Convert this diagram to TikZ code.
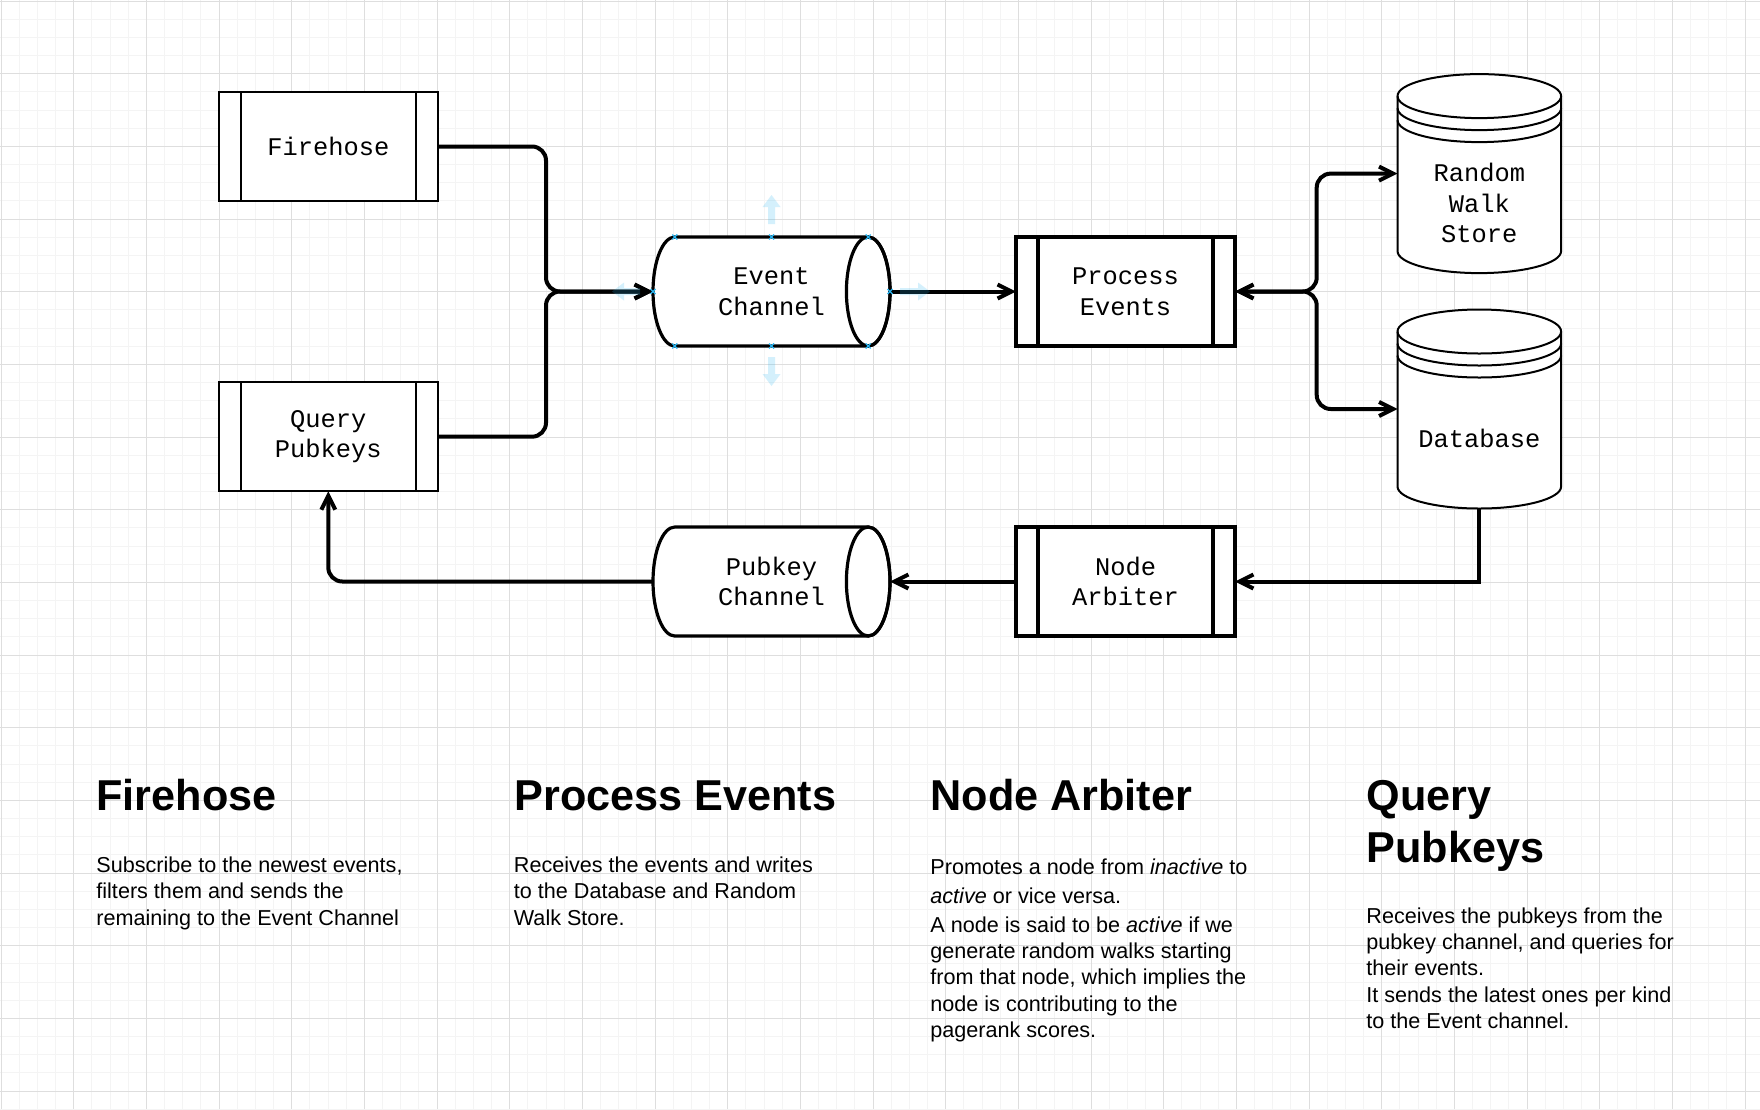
\documentclass[tikz,border=0pt]{standalone}
\usepackage{fontspec}
\setmainfont{Liberation Sans}
\setmonofont{Liberation Mono}
\usetikzlibrary{arrows.meta}

\definecolor{gridmaj}{RGB}{222,222,222}
\definecolor{gridmin}{RGB}{244,244,244}
\definecolor{hover}{RGB}{41,182,242}

\newcommand\drawchannel[3]{%
  \node[chanbox] (#1) at (#2) {};
  \filldraw[fill=white, line width=1.6pt]
    ([xshift=-10.9pt]#1.north east) -- ([xshift=10.9pt]#1.north west)
    arc[start angle=90, end angle=270, x radius=10.9pt, y radius=27.25pt]
    -- ([xshift=-10.9pt]#1.south east)
    arc[start angle=-90, end angle=90, x radius=10.9pt, y radius=27.25pt];
  \draw[line width=1.6pt] ([xshift=-10.9pt]#1.east) ellipse[x radius=10.9pt, y radius=27.25pt];
  \node[monotext] (#1-txt) at (#1) {#3};
}
\newcommand\drawstore[3]{%
  \node[storebox] (#1) at (#2) {};
  \filldraw[fill=white, line width=1pt]
    ([yshift=-11pt]#1.north west) -- ([yshift=11pt]#1.south west)
    arc[start angle=180, end angle=360, x radius=40.9pt, y radius=11pt]
    -- ([yshift=-11pt]#1.north east)
    arc[start angle=0, end angle=180, x radius=40.9pt, y radius=11pt];
  \foreach \dy in {11,17,23}
    \draw[line width=1pt] ([yshift=-\dy pt]#1.north west)
      arc[start angle=180, end angle=360, x radius=40.9pt, y radius=11pt];
  \node[monotext] (#1-txt) at ([yshift=-14.8pt]#1.center) {#3};
}

\begin{document}
\begin{tikzpicture}[x=0.5pt, y=-0.5pt,
  >={Straight Barb[length=7pt, width=7pt]},
  monotext/.style = {align=center, inner sep=0pt,
    font=\ttfamily\fontsize{12.7}{15.3}\selectfont},
  procbox/.style = {rectangle, draw, fill=white, line width=#1,
    minimum width=109.5pt, minimum height=54.5pt, outer sep=0pt, monotext,
    path picture={\draw[line width=#1]
      ([xshift=11pt]path picture bounding box.north west) -- ([xshift=11pt]path picture bounding box.south west)
      ([xshift=-11pt]path picture bounding box.north east) -- ([xshift=-11pt]path picture bounding box.south east);}},
  chanbox/.style = {rectangle, minimum width=118.5pt, minimum height=54.5pt,
    inner sep=0pt, outer sep=0pt},
  storebox/.style = {rectangle, minimum width=81.8pt, minimum height=99.5pt,
    inner sep=0pt, outer sep=0pt},
  conn/.style = {line width=2pt, ->},
  heading/.style = {anchor=base west, inner sep=0pt, align=left,
    font=\bfseries\fontsize{21.6}{25.9}\selectfont},
  body/.style = {anchor=base west, inner sep=0pt, align=left,
    font=\fontsize{10.8}{13.1}\selectfont}]

\useasboundingbox (0,0) rectangle (1760,1109);
\fill[white] (0,0) rectangle (1760,1109);
\foreach \i in {0,...,96}
  \draw[gridmin, line width=0.5pt] ({1+\i*18.1667},0) -- ({1+\i*18.1667},1109);
\foreach \i in {0,...,61}
  \draw[gridmin, line width=0.5pt] (0,{1+\i*18.1667}) -- (1760,{1+\i*18.1667});
\foreach \i in {0,...,24}
  \draw[gridmaj, line width=0.5pt] ({1+\i*72.667},0) -- ({1+\i*72.667},1109);
\foreach \i in {0,...,15}
  \draw[gridmaj, line width=0.5pt] (0,{1+\i*72.667}) -- (1760,{1+\i*72.667});

\node[procbox=1pt] (fire) at (328.3,146.5) {Firehose};
\node[procbox=1pt] (query) at (328.3,436.7) {Query\\Pubkeys};
\drawchannel{evch}{771.5,291.5}{Event\\Channel}
\node[procbox=1.6pt] (proc) at (1125.5,291.5) {Process\\Events};
\drawstore{rws}{1479.3,173.6}{Random\\Walk\\Store}
\drawstore{db}{1479.3,409}{Database}
\node[procbox=1.6pt] (arb) at (1125.5,581.5) {Node\\Arbiter};
\drawchannel{pkch}{771.5,581.5}{Pubkey\\Channel}

\coordinate (merge) at (546,291.5);
\coordinate (split) at (1316.7,291.5);

\draw[conn, rounded corners=7pt] (fire.east) -| (merge) -- (evch.west);
\draw[conn, rounded corners=7pt] (query.east) -| (merge) -- (evch.west);
\draw[conn] (evch.east) -- (proc.west);
\draw[conn, <->, rounded corners=7pt] (proc.east) -- (split) |- (rws.west);
\draw[conn, <->, rounded corners=7pt] (proc.east) -- (split) |- (db.west);
\draw[conn] (db.south) |- (arb.east);
\draw[conn] (arb.west) -- (pkch.east);
\draw[conn, rounded corners=7pt] (pkch.west) -| (query.south);

\fill[hover, fill opacity=0.2] (771.5,195) -- (780.5,207) -- (775,207) -- (775,224)
  -- (768,224) -- (768,207) -- (762.5,207) -- cycle;
\fill[hover, fill opacity=0.2] (771.5,386) -- (780.5,374) -- (775,374) -- (775,357)
  -- (768,357) -- (768,374) -- (762.5,374) -- cycle;
\fill[hover, fill opacity=0.2] (612,291.5) -- (624,282.5) -- (624,288) -- (640,288)
  -- (640,295) -- (624,295) -- (624,300.5) -- cycle;
\fill[hover, fill opacity=0.2] (930,291.5) -- (918,282.5) -- (918,288) -- (900,288)
  -- (900,295) -- (918,295) -- (918,300.5) -- cycle;
\foreach \p in {evch.north, evch.south, evch.west, evch.east}
  \draw[hover, line width=0.6pt] (\p) +(-2.5,-2.5) -- +(2.5,2.5) +(-2.5,2.5) -- +(2.5,-2.5);
\foreach \p in {north west, south west}
  \draw[hover, line width=0.6pt] ([xshift=10.9pt]evch.\p) +(-2.5,-2.5) -- +(2.5,2.5) +(-2.5,2.5) -- +(2.5,-2.5);
\foreach \p in {north east, south east}
  \draw[hover, line width=0.6pt] ([xshift=-10.9pt]evch.\p) +(-2.5,-2.5) -- +(2.5,2.5) +(-2.5,2.5) -- +(2.5,-2.5);

\node[heading] (h-fire) at (96,810.7) {Firehose};
\node[body] (t-fire) at (96,925) {Subscribe to the newest events,\\filters them and sends the\\remaining to the Event Channel};
\node[heading] (h-proc) at (514,810.7) {Process Events};
\node[body] (t-proc) at (513.5,925) {Receives the events and writes\\to the Database and Random\\Walk Store.};
\node[heading] (h-arb) at (930,810.7) {Node Arbiter};
\node[body] (t-arb) at (930,1037.3) {Promotes a node from \textit{inactive} to\\[1.4pt]\textit{active} or vice versa.\\[1.3pt]A node is said to be \textit{active} if we\\generate random walks starting\\from that node, which implies the\\node is contributing to the\\pagerank scores.};
\node[heading] (h-query) at (1366,862.7) {Query\\Pubkeys};
\node[body] (t-query) at (1366,1028.3) {Receives the pubkeys from the\\pubkey channel, and queries for\\their events.\\It sends the latest ones per kind\\to the Event channel.};
\end{tikzpicture}
\end{document}
